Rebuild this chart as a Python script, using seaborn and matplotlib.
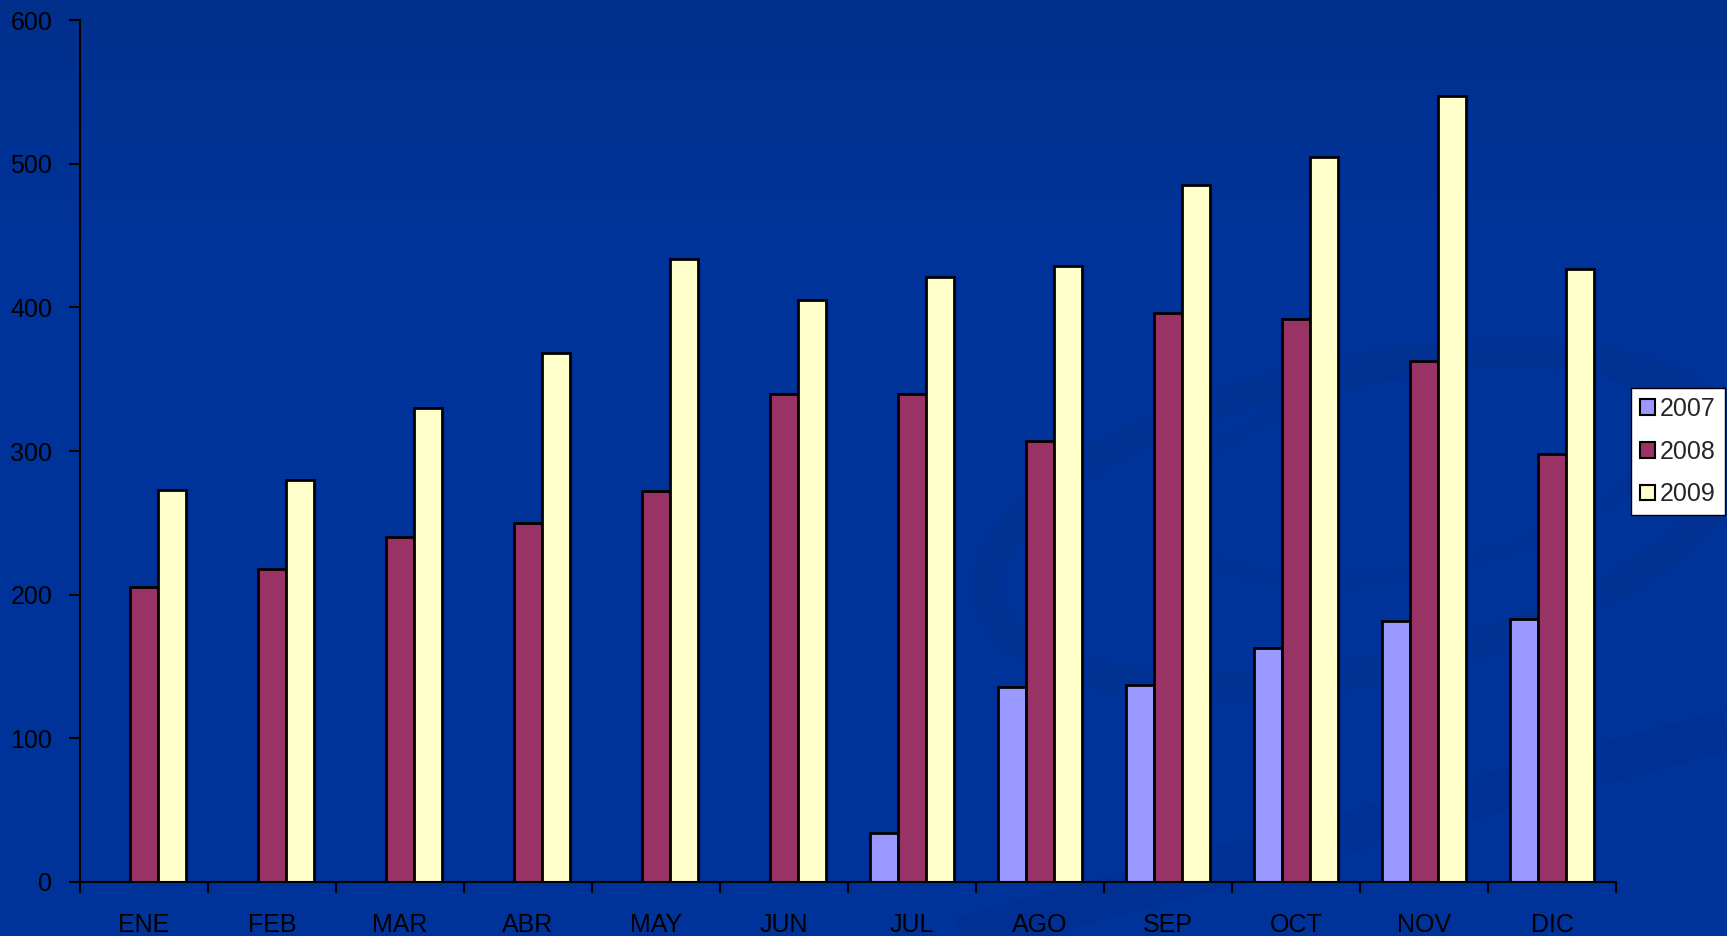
import numpy as np
import pandas as pd
import matplotlib
matplotlib.use("Agg")
import matplotlib.pyplot as plt
from matplotlib.colors import LinearSegmentedColormap
from matplotlib.patches import Ellipse
import seaborn as sns

# data
months = ["ENE", "FEB", "MAR", "ABR", "MAY", "JUN",
          "JUL", "AGO", "SEP", "OCT", "NOV", "DIC"]
v2007 = [np.nan, np.nan, np.nan, np.nan, np.nan, np.nan,
         34, 136, 137, 163, 182, 183]
v2008 = [205, 218, 240, 250, 272, 340, 340, 307, 396, 392, 363, 298]
v2009 = [273, 280, 330, 368, 434, 405, 421, 429, 485, 505, 547, 427]
years = ["2007", "2008", "2009"]
colors = ["#9999FF", "#993366", "#FFFFCC"]

df = pd.DataFrame({"mes": months, "2007": v2007, "2008": v2008, "2009": v2009})
long = df.melt(id_vars="mes", var_name="anio", value_name="valor").dropna()

sns.set_style("white")
plt.rcParams["font.family"] = ["Liberation Sans", "DejaVu Sans"]

bg = "#003399"
fig = plt.figure(figsize=(17.27, 9.36), dpi=100, facecolor=bg)

# slide background: slight darkening at the top plus faint swirl
bax = fig.add_axes([0, 0, 1, 1], zorder=-1)
grad = np.linspace(0, 1, 200).reshape(-1, 1)
cmap = LinearSegmentedColormap.from_list("bg", ["#002F8C", bg])
bax.imshow(np.clip(grad * 4, 0, 1), aspect="auto", cmap=cmap,
           extent=[0, 1727, 936, 0])
swirl = "#002E8C"
bax.add_patch(Ellipse((1360, 520), 760, 300, angle=-12, fill=False,
                      edgecolor=swirl, lw=22, alpha=0.4))
bax.add_patch(Ellipse((1420, 470), 500, 200, angle=-12, fill=False,
                      edgecolor=swirl, lw=10, alpha=0.3))
bax.plot([950, 1727], [940, 730], color=swirl, lw=30, alpha=0.45,
         solid_capstyle="butt")
bax.set_xlim(0, 1727)
bax.set_ylim(936, 0)
bax.axis("off")

ax = fig.add_axes([0.0463, 0.0577, 0.8894, 0.9209])
ax.set_facecolor("none")

sns.barplot(data=long, x="mes", y="valor", hue="anio", order=months,
            hue_order=years, palette=colors, width=0.66,
            edgecolor="black", linewidth=2, saturation=1, ax=ax)

ax.set_xlim(-0.5, len(months) - 0.5)
ax.set_ylim(0, 600)
ax.set_yticks(range(0, 601, 100))
ax.set_xlabel("")
ax.set_ylabel("")

for side in ["top", "right"]:
    ax.spines[side].set_visible(False)
for side in ["left", "bottom"]:
    ax.spines[side].set_color("black")
    ax.spines[side].set_linewidth(1.5)

ax.tick_params(axis="y", direction="out", length=8, width=1.5, pad=12,
               color="black", labelsize=18, labelcolor="black", left=True)
ax.tick_params(axis="x", which="major", length=0, labelsize=18,
               labelcolor="black", pad=22)
ax.set_xticks(np.arange(-0.5, len(months)), minor=True)
ax.tick_params(axis="x", which="minor", direction="out", length=8,
               width=1.5, color="black", bottom=True)

leg = ax.legend(loc="center left", bbox_to_anchor=(0.9445, 0.5176),
                bbox_transform=fig.transFigure, fontsize=18, frameon=True,
                fancybox=False, framealpha=1, handlelength=0.6,
                handleheight=0.6, handletextpad=0.2, labelspacing=0.75,
                borderpad=0.35, borderaxespad=0)
leg.get_frame().set_edgecolor("black")
leg.get_frame().set_facecolor("white")
leg.get_frame().set_linewidth(1)
for h in leg.get_patches():
    h.set_edgecolor("black")
    h.set_linewidth(1.5)

fig.savefig("out.png", dpi=100, facecolor=bg)
